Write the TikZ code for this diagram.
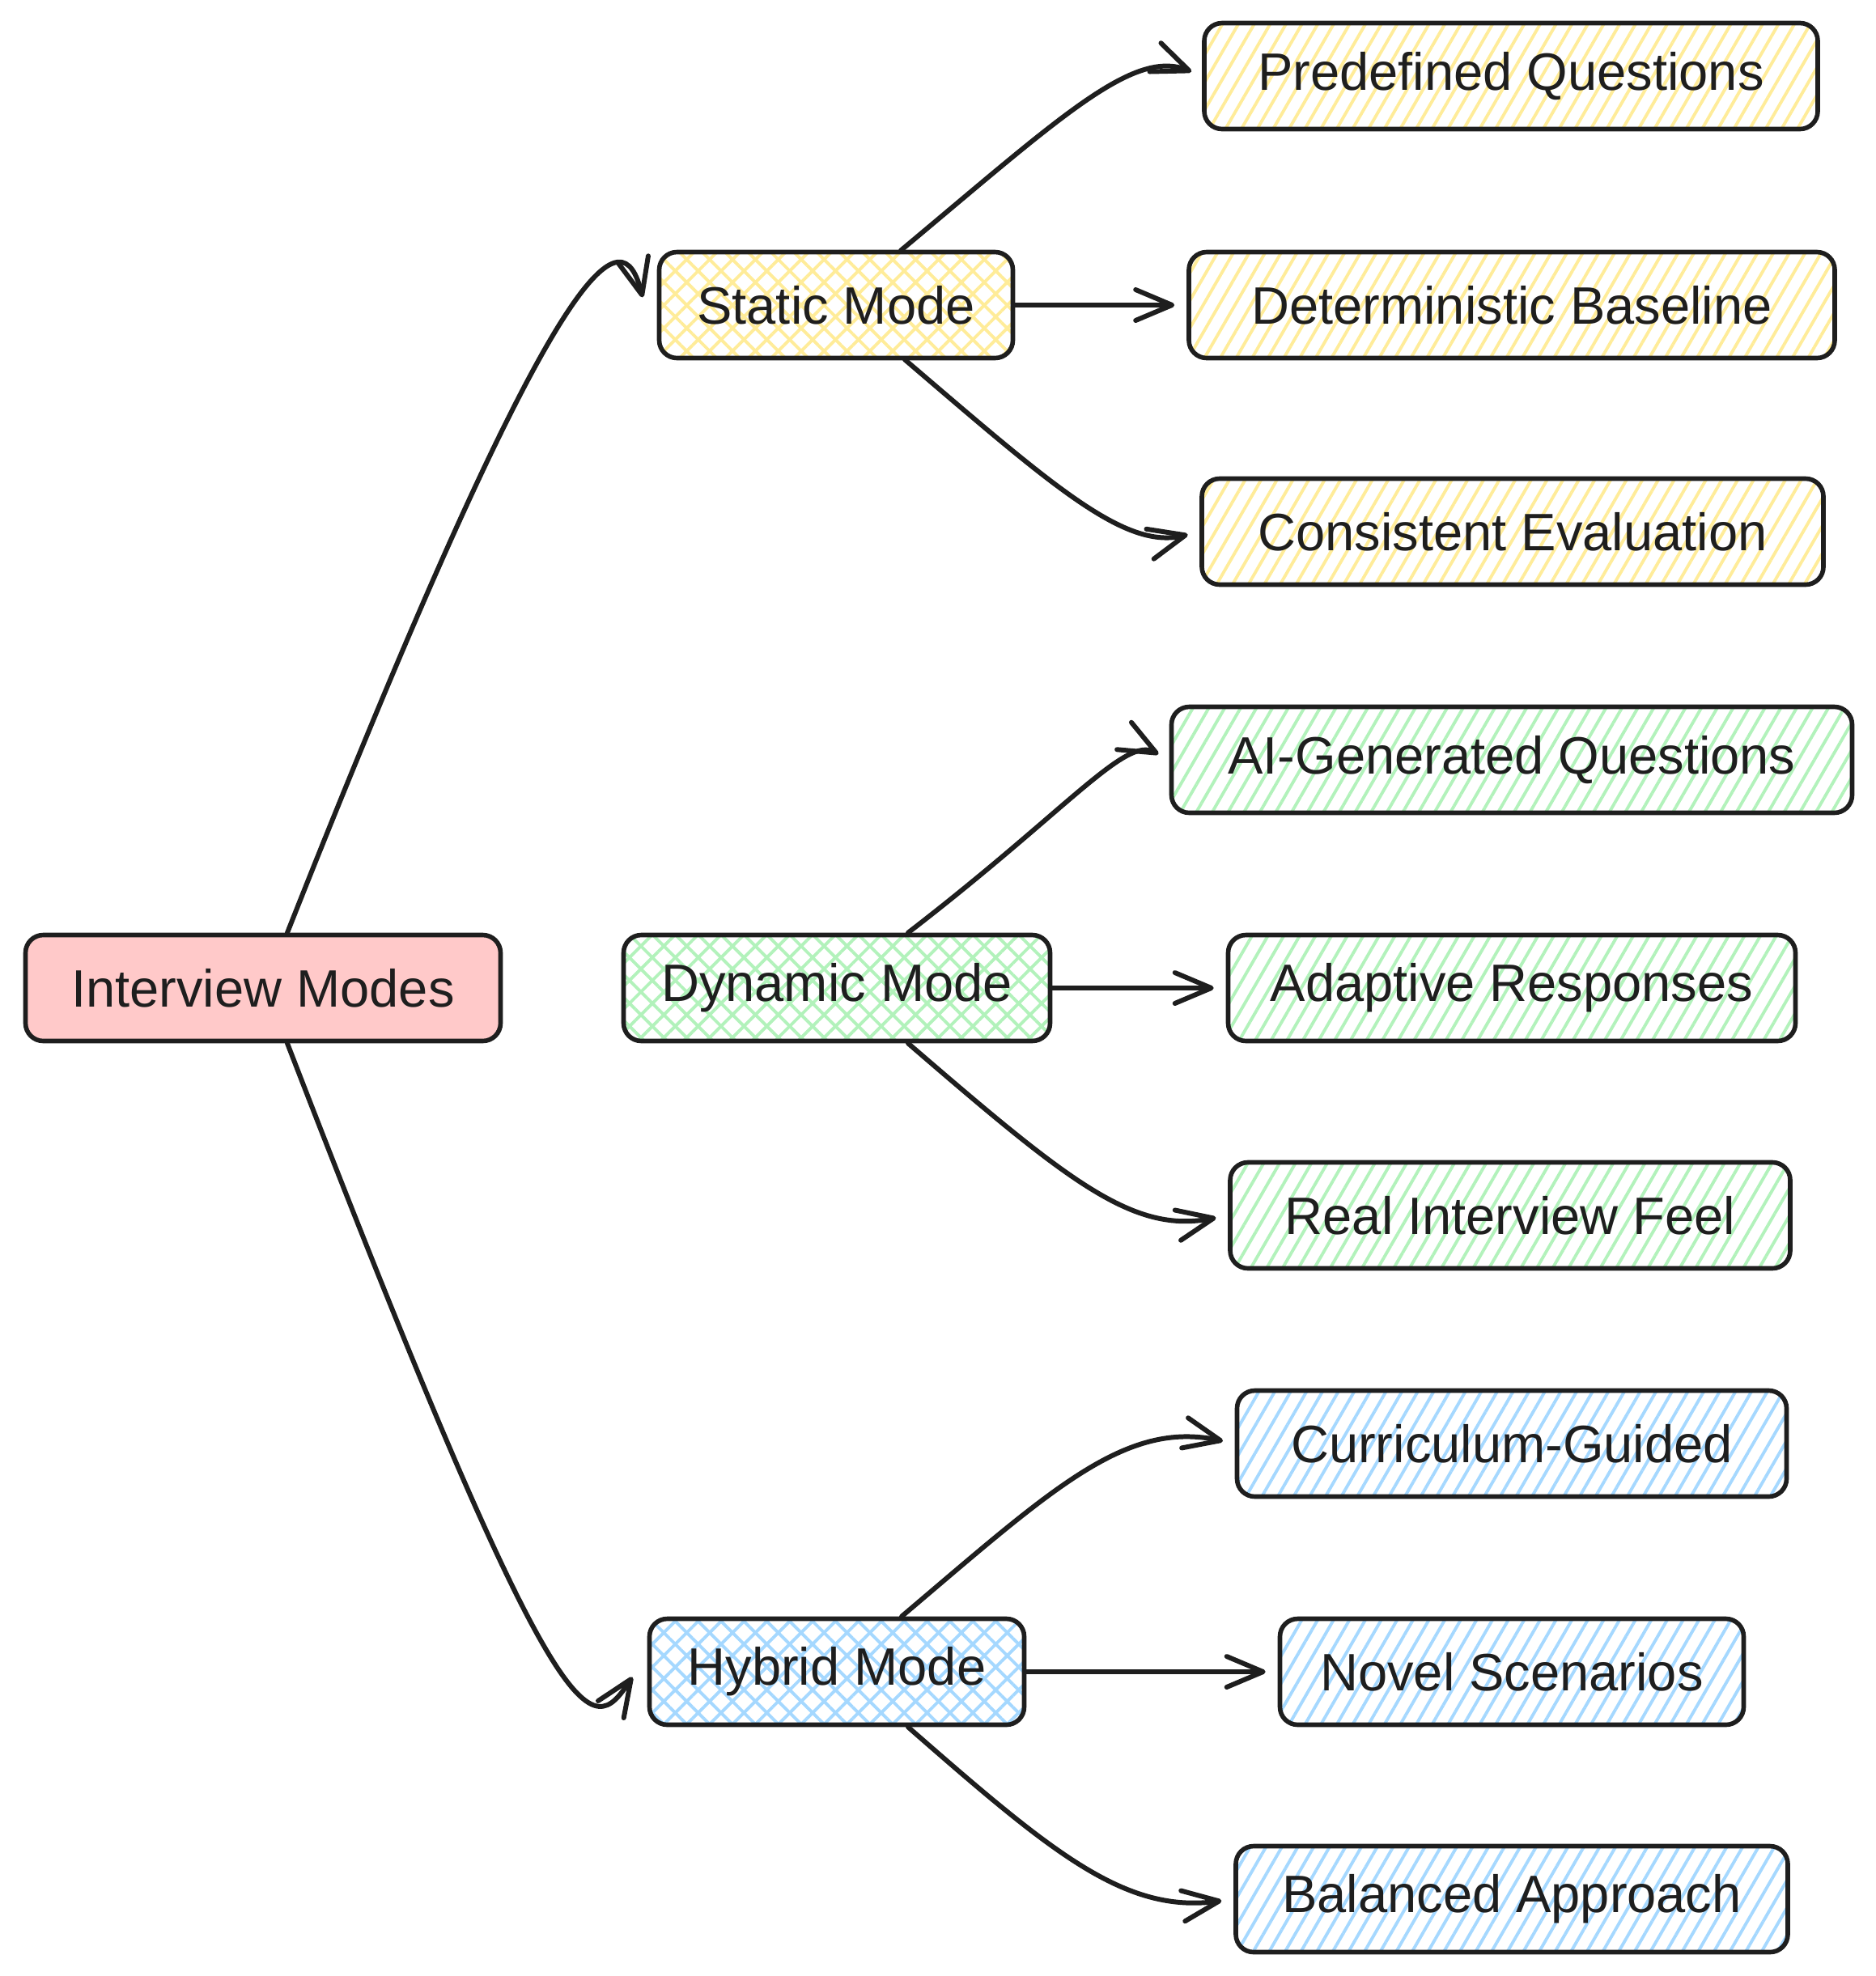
\documentclass[tikz,border=0pt]{standalone}
\usepackage{fontspec}
\setmainfont{Liberation Sans}
\usetikzlibrary{arrows.meta,patterns.meta}
\definecolor{inkgray}{HTML}{1E1E1E}
\definecolor{lightpink}{HTML}{FFC9C9}
\definecolor{hatchyellow}{HTML}{FFEC99}
\definecolor{hatchgreen}{HTML}{B2F2BB}
\definecolor{hatchblue}{HTML}{A5D8FF}

\begin{document}
\begin{tikzpicture}[
    box/.style={draw=inkgray, line width=1.6pt, rounded corners=0.22cm, minimum height=1.31cm, align=center, text=inkgray, font=\fontsize{18.5}{22}\selectfont},
    root/.style={box, fill=lightpink},
    mode/.style={box, pattern={Hatch[angle=45,distance=2mm,line width=1.1pt]}, pattern color=#1},
    leaf/.style={box, pattern={Lines[angle=60,distance=1.7mm,line width=1.1pt]}, pattern color=#1},
    arr/.style={-{Straight Barb[length=4.5mm,width=3.8mm,line width=1.7pt,round]}, line width=1.7pt, line cap=round, draw=inkgray, shorten >=1.5mm}
]
\useasboundingbox (0,0) rectangle (23.18,-24.42);

\node[root, minimum width=5.87cm] (im) at (3.25,-12.21) {Interview Modes};

\node[mode=hatchyellow, minimum width=4.37cm] (static) at (10.33,-3.77) {Static Mode};
\node[mode=hatchgreen, minimum width=5.27cm] (dynamic) at (10.34,-12.21) {Dynamic Mode};
\node[mode=hatchblue, minimum width=4.63cm] (hybrid) at (10.34,-20.66) {Hybrid Mode};

\node[leaf=hatchyellow, minimum width=7.58cm] (pq) at (18.67,-0.94) {Predefined Questions};
\node[leaf=hatchyellow, minimum width=7.98cm] (db) at (18.68,-3.77) {Deterministic Baseline};
\node[leaf=hatchyellow, minimum width=7.68cm] (ce) at (18.69,-6.57) {Consistent Evaluation};
\node[leaf=hatchgreen, minimum width=8.41cm] (ag) at (18.68,-9.39) {AI-Generated Questions};
\node[leaf=hatchgreen, minimum width=7.01cm] (ar) at (18.68,-12.21) {Adaptive Responses};
\node[leaf=hatchgreen, minimum width=6.92cm] (rf) at (18.66,-15.02) {Real Interview Feel};
\node[leaf=hatchblue, minimum width=6.79cm] (cg) at (18.68,-17.84) {Curriculum-Guided};
\node[leaf=hatchblue, minimum width=5.73cm] (ns) at (18.68,-20.66) {Novel Scenarios};
\node[leaf=hatchblue, minimum width=6.82cm] (ba) at (18.68,-23.47) {Balanced Approach};

% root to modes
\draw[arr] ([xshift=3mm]im.north) .. controls (7.0,-2.8) and (7.7,-2.7) .. ([xshift=-1.5mm,yshift=-0.5mm]static.west);
\draw[arr] ([xshift=3mm]im.south) .. controls (6.95,-21.7) and (7.3,-21.5) .. ([xshift=-1mm,yshift=0.6mm]hybrid.west);

% static
\draw[arr] ([xshift=8mm]static.north) .. controls (13.1,-1.45) and (14.0,-0.6) .. (pq.west);
\draw[arr] (static.east) -- (db.west);
\draw[arr] ([xshift=8.5mm]static.south) .. controls (13.0,-6.0) and (13.9,-6.8) .. (ce.west);

% dynamic
\draw[arr] ([xshift=8.8mm]dynamic.north) .. controls (13.2,-10.0) and (13.9,-9.1) .. (ag.west);
\draw[arr] (dynamic.east) -- (ar.west);
\draw[arr] ([xshift=8.8mm]dynamic.south) .. controls (13.2,-14.6) and (14.0,-15.25) .. (rf.west);

% hybrid
\draw[arr] ([xshift=8mm]hybrid.north) .. controls (13.0,-18.4) and (13.9,-17.55) .. (cg.west);
\draw[arr] (hybrid.east) -- (ns.west);
\draw[arr] ([xshift=8.8mm]hybrid.south) .. controls (13.0,-22.9) and (13.9,-23.65) .. (ba.west);
\end{tikzpicture}
\end{document}
